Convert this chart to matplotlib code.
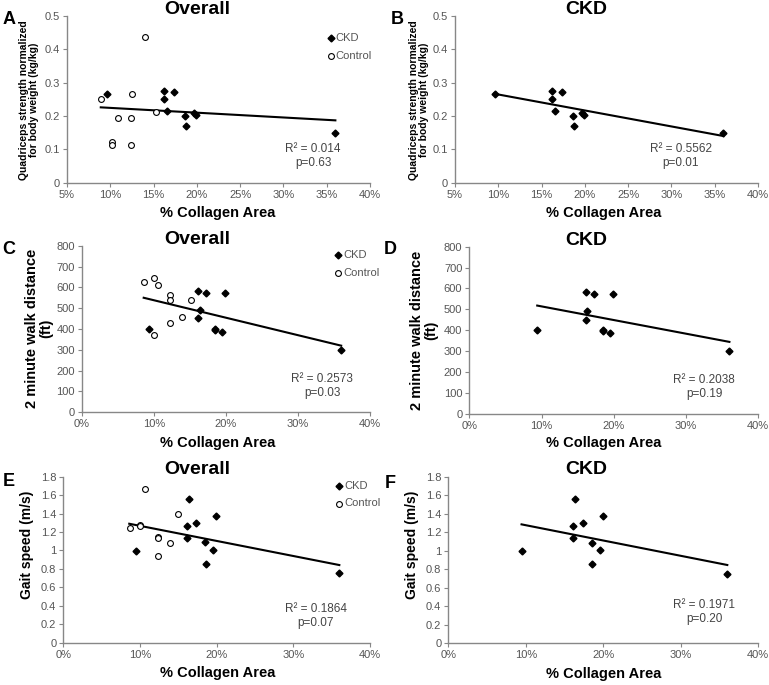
import matplotlib
matplotlib.use("Agg")
import matplotlib.pyplot as plt
from matplotlib.ticker import FuncFormatter
from matplotlib.lines import Line2D

plt.rcParams.update({
    "font.family": ["Liberation Sans", "DejaVu Sans"],
    "axes.spines.top": False, "axes.spines.right": False,
})

W, H = 769, 685
GRAY = "#878787"
TXT = "#555555"

# ---------- data (collagen area in %) ----------
# quadriceps strength (kg/kg)
ckd_x_q = [9.6, 16.2, 16.2, 16.5, 17.4, 18.65, 18.7, 19.65, 19.95, 36.0]
ckd_y_q = [0.266, 0.274, 0.250, 0.215, 0.273, 0.200, 0.171, 0.208, 0.204, 0.149]
ctl_x_q = [8.96, 14.03, 12.5, 10.84, 12.38, 15.27, 10.19, 10.19, 12.38]
ctl_y_q = [0.251, 0.438, 0.266, 0.195, 0.195, 0.212, 0.123, 0.113, 0.113]

# 2 minute walk distance (ft)
ckd_x_w = [9.4, 16.1, 16.1, 16.35, 17.3, 18.45, 18.55, 19.5, 19.9, 36.0]
ckd_y_w = [401, 582, 451, 490, 573, 400, 395, 385, 574, 300]
ctl_x_w = [8.66, 10.05, 10.65, 12.27, 12.3, 15.1, 13.9, 12.2, 10.0]
ctl_y_w = [624, 643, 613, 563, 541, 538, 458, 429, 373]

# gait speed (m/s)
ckd_x_g = [9.46, 16.34, 16.13, 17.33, 19.91, 16.13, 18.54, 19.57, 18.58, 35.95]
ckd_y_g = [0.994, 1.559, 1.264, 1.30, 1.375, 1.134, 1.087, 1.008, 0.853, 0.752]
ctl_x_g = [10.6, 15.0, 10.0, 10.05, 8.65, 12.3, 12.35, 13.9, 12.3]
ctl_y_g = [1.667, 1.396, 1.28, 1.27, 1.247, 1.15, 1.14, 1.078, 0.940]

# trend lines (x endpoints, y endpoints)
trend = {
    "A": ([8.9, 36.0], [0.226, 0.187]),
    "B": ([9.5, 36.0], [0.267, 0.140]),
    "C": ([8.6, 36.0], [550, 320]),
    "D": ([9.4, 36.0], [518, 344]),
    "E": ([8.6, 36.0], [1.29, 0.842]),
    "F": ([9.45, 36.0], [1.285, 0.846]),
}
stats = {
    "A": ("0.014", "0.63"), "B": ("0.5562", "0.01"),
    "C": ("0.2573", "0.03"), "D": ("0.2038", "0.19"),
    "E": ("0.1864", "0.07"), "F": ("0.1971", "0.20"),
}

fig = plt.figure(figsize=(W / 100, H / 100), dpi=100)


def px_axes(x0, x1, ytop, ybot):
    return fig.add_axes([x0 / W, 1 - ybot / H, (x1 - x0) / W, (ybot - ytop) / H])


def ftext(x, y, s, ha="center", **kw):
    fig.text(x / W, 1 - y / H, s, ha=ha, va="center", **kw)


def fmark(x, y, **kw):
    fig.add_artist(Line2D([x / W], [1 - y / H], transform=fig.transFigure, ls="none", **kw))


DIA = dict(marker="D", ms=3.5, color="black")
CIR = dict(marker="o", ms=4.2, mfc="white", mec="black", mew=0.8)

pct = FuncFormatter(lambda v, p: f"{v:.0f}%")
dec = FuncFormatter(lambda v, p: f"{v:g}" if abs(v) > 1e-9 else "0")

panels = [
    # key, box px, data, xlim, xticks, ylim, yticks, title, ylabel, ylabel pos, ylabel size, stat pos
    ("A", (67, 370, 16, 182.7), (ckd_x_q, ckd_y_q, ctl_x_q, ctl_y_q), (5, 40), range(5, 41, 5),
     (0, 0.5), [0, .1, .2, .3, .4, .5], "Overall",
     "Quadriceps strength normalized\nfor body weight (kg/kg)", (29, 100), 7.5, (313, 156)),
    ("B", (455, 758, 16, 182.7), (ckd_x_q, ckd_y_q, None, None), (5, 40), range(5, 41, 5),
     (0, 0.5), [0, .1, .2, .3, .4, .5], "CKD",
     "Quadriceps strength normalized\nfor body weight (kg/kg)", (419, 100), 7.5, (681, 156)),
    ("C", (81.7, 370, 245.7, 412.3), (ckd_x_w, ckd_y_w, ctl_x_w, ctl_y_w), (0, 40), range(0, 41, 10),
     (0, 800), range(0, 801, 100), "Overall",
     "2 minute walk distance\n(ft)", (39, 328), 10.5, (322, 386)),
    ("D", (469.3, 758.3, 246.7, 413.7), (ckd_x_w, ckd_y_w, None, None), (0, 40), range(0, 41, 10),
     (0, 800), range(0, 801, 100), "CKD",
     "2 minute walk distance\n(ft)", (424, 330), 10.5, (704, 387)),
    ("E", (63.3, 370, 476.7, 642.7), (ckd_x_g, ckd_y_g, ctl_x_g, ctl_y_g), (0, 40), range(0, 41, 10),
     (0, 1.8), [0, .2, .4, .6, .8, 1, 1.2, 1.4, 1.6, 1.8], "Overall",
     "Gait speed (m/s)", (27, 545), 10, (316, 616)),
    ("F", (448.3, 758.3, 476.7, 643.3), (ckd_x_g, ckd_y_g, None, None), (0, 40), range(0, 41, 10),
     (0, 1.8), [0, .2, .4, .6, .8, 1, 1.2, 1.4, 1.6, 1.8], "CKD",
     "Gait speed (m/s)", (412, 545), 10, (704, 612)),
]

letter_pos = {"A": (9, 19), "B": (397, 20), "C": (9, 249), "D": (390, 250), "E": (9, 482), "F": (390, 483)}
title_y = {"A": 10, "B": 10, "C": 239, "D": 241, "E": 470, "F": 470}
xlabel_y = {"A": 213, "B": 213, "C": 443, "D": 443, "E": 673, "F": 674}
# legend rows: (marker x, CKD row y, Control row y)
legend_pos = {"A": (330.5, 38, 56), "C": (338, 254.5, 273), "E": (339, 486, 503.5)}

for key, box, data, xlim, xt, ylim, yt, title, ylab, ylpos, ylfs, stpos in panels:
    ax = px_axes(*box)
    cx, cy, kx, ky = data
    if kx is not None:
        ax.plot(kx, ky, ls="none", zorder=3, **CIR)
    ax.plot(cx, cy, ls="none", zorder=4, **DIA)
    tx, ty = trend[key]
    ax.plot(tx, ty, color="black", lw=1.5, zorder=2)

    ax.set_xlim(*xlim)
    ax.set_ylim(*ylim)
    ax.set_xticks(list(xt))
    ax.set_yticks(list(yt))
    ax.xaxis.set_major_formatter(pct)
    ax.yaxis.set_major_formatter(dec)
    for s in ("left", "bottom"):
        ax.spines[s].set_color(GRAY)
        ax.spines[s].set_linewidth(1.0)
    ax.tick_params(length=3, width=0.8, color=GRAY, labelcolor=TXT, labelsize=8, pad=2)
    ax.patch.set_alpha(0)

    if key in legend_pos:
        mx, y1, y2 = legend_pos[key]
        fmark(mx, y1, **DIA)
        fmark(mx, y2, **CIR)
        ftext(mx + 5, y1, "CKD", ha="left", fontsize=8, color=TXT)
        ftext(mx + 5, y2, "Control", ha="left", fontsize=8, color=TXT)

    r2, p = stats[key]
    ftext(stpos[0], stpos[1], f"R² = {r2}\np={p}", fontsize=8.5, color="#444444",
          multialignment="center", linespacing=1.3)

    cxp = 197 if key in "ACE" else 586
    ftext(cxp, title_y[key], title, fontsize=14, fontweight="bold")
    ftext(218 if key in "ACE" else 604, xlabel_y[key], "% Collagen Area", fontsize=10.5, fontweight="bold")
    ftext(ylpos[0], ylpos[1], ylab, fontsize=ylfs, fontweight="bold", rotation=90,
          multialignment="center", linespacing=1.05)
    lx, ly = letter_pos[key]
    ftext(lx, ly, key, fontsize=13, fontweight="bold")

fig.savefig("out.png", dpi=100)
